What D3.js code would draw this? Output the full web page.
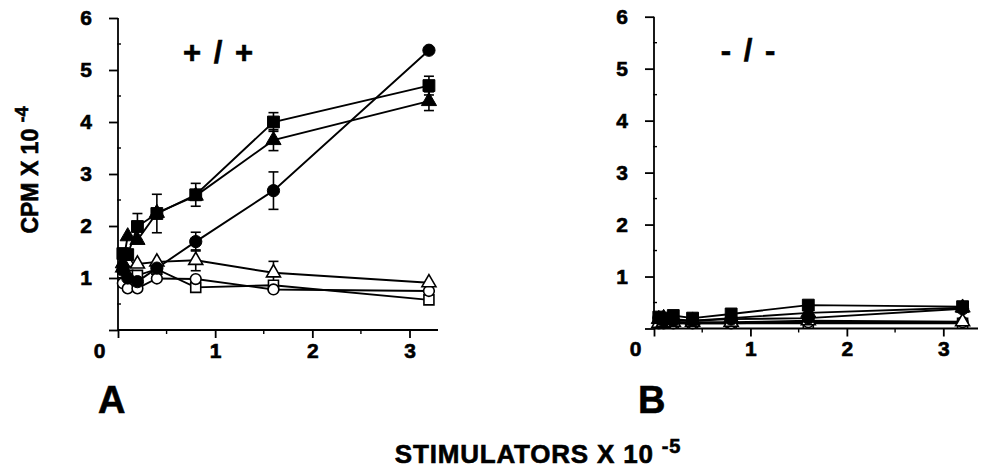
<!DOCTYPE html>
<html><head><meta charset="utf-8">
<script src="https://cdn.jsdelivr.net/npm/d3@7"></script>
<style>
body{margin:0;background:#fff;}
svg{display:block;font-family:"Liberation Sans",Arial,Helvetica,sans-serif;font-weight:bold;}
</style></head>
<body><svg id="c" width="982" height="474"></svg>
<script>
// ---------- DATA ----------
const xValues = [0.05, 0.1, 0.2, 0.4, 0.8, 1.6, 3.2];
const xTicks = [0, 1, 2, 3];
const xMinorTicks = [0.5, 1.5, 2.5];
const yTicks = [0, 1, 2, 3, 4, 5, 6];
const yMinorTicks = [0.5, 1.5, 2.5, 3.5, 4.5, 5.5];

// Panel A (+/+)
const aFilledCircle     = [1.15, 1.00, 0.93, 1.19, 1.70, 2.68, 5.38];
const aFilledCircleErr  = [0, 0, 0, 0, 0.18, 0.36, 0];
const aFilledSquare     = [1.47, 1.45, 1.99, 2.24, 2.60, 4.00, 4.70];
const aFilledSquareErr  = [0, 0, 0.25, 0.37, 0.22, 0.18, 0.18];
const aFilledTriangle   = [1.28, 1.80, 1.73, 2.25, 2.58, 3.65, 4.40];
const aFilledTriangleErr= [0, 0, 0, 0, 0, 0.20, 0.18];
const aOpenTriangle     = [1.20, 1.30, 1.27, 1.31, 1.34, 1.10, 0.91];
const aOpenTriangleErr  = [0, 0, 0, 0, 0.20, 0.22, 0];
const aOpenCircle       = [0.90, 0.80, 0.80, 0.99, 0.98, 0.78, 0.75];
const aOpenSquare       = [1.10, 1.05, 1.05, 1.17, 0.82, 0.86, 0.58];

// Panel B (-/-)
const bFilledSquare     = [0.22, 0.20, 0.25, 0.20, 0.28, 0.45, 0.42];
const bFilledTriangle   = [0.18, 0.20, 0.18, 0.15, 0.20, 0.30, 0.40];
const bFilledCircle     = [0.20, 0.15, 0.15, 0.15, 0.18, 0.20, 0.38];
const bOpenTriangle     = [0.10, 0.12, 0.12, 0.12, 0.12, 0.15, 0.13];
const bOpenCircle       = [0.10, 0.10, 0.10, 0.10, 0.10, 0.12, 0.12];
const bOpenSquare       = [0.12, 0.10, 0.10, 0.10, 0.10, 0.10, 0.10];

const panelLabels = ["A", "B"];
const genotypeLabels = ["+ / +", "- / -"];
const yAxisTitle = "CPM X 10";
const yAxisExp = "-4";
const xAxisTitle = "STIMULATORS X 10";
const xAxisExp = "-5";

// ---------- DRAW ----------
const svg = d3.select("#c");
const heavy = sel => sel.attr("stroke","#000").attr("stroke-width",0.6).attr("fill","#000");

const panels = [
  {x0:118, x3:409.5, xEnd:438, y0:330, y6:18,
   label:panelLabels[0], lx:98, geno:genotypeLabels[0], gx:218, gy:63, ws:4,
   series:[
     {v:aOpenSquare, sym:d3.symbolSquare, open:true},
     {v:aOpenCircle, sym:d3.symbolCircle, open:true},
     {v:aOpenTriangle, e:aOpenTriangleErr, sym:d3.symbolTriangle, open:true},
     {v:aFilledCircle, e:aFilledCircleErr, sym:d3.symbolCircle},
     {v:aFilledTriangle, e:aFilledTriangleErr, sym:d3.symbolTriangle},
     {v:aFilledSquare, e:aFilledSquareErr, sym:d3.symbolSquare}
   ]},
  {x0:654, x3:943.3, xEnd:978, y0:328.5, y6:16.7,
   label:panelLabels[1], lx:638, geno:genotypeLabels[1], gx:748, gy:61, ws:4,
   series:[
     {v:bOpenSquare, sym:d3.symbolSquare, open:true},
     {v:bOpenCircle, sym:d3.symbolCircle, open:true},
     {v:bOpenTriangle, sym:d3.symbolTriangle, open:true},
     {v:bFilledCircle, sym:d3.symbolCircle},
     {v:bFilledTriangle, sym:d3.symbolTriangle},
     {v:bFilledSquare, sym:d3.symbolSquare}
   ]}
];

function symSize(sym, open){
  if (sym === d3.symbolSquare) return open ? 100 : 140;
  if (sym === d3.symbolCircle) return open ? 90 : 118;
  return open ? 85 : 100;
}

panels.forEach(p => {
  const xs = d3.scaleLinear().domain([0,3]).range([p.x0, p.x3]);
  const ys = d3.scaleLinear().domain([0,6]).range([p.y0, p.y6]);
  const xMax = xs.invert(p.xEnd);
  const g = svg.append("g");

  // x axis
  const xa = g.append("g").attr("transform",`translate(0,${p.y0})`)
    .call(d3.axisBottom(xs).tickValues(xTicks).tickSize(8).tickPadding(5).tickSizeOuter(0).tickFormat(d3.format("d")));
  xa.select(".domain").remove();
  xa.append("line").attr("x1",xs(0)).attr("x2",xs(xMax)).attr("stroke","#000").attr("stroke-width",1.8);
  xa.selectAll(".tick line").attr("stroke-width",1.8);
  xa.selectAll(".tick text").attr("font-size",21).attr("font-weight","bold")
    .attr("font-family","Liberation Sans, Arial, sans-serif")
    .attr("dx", d => d === 0 ? -19 : 0).call(heavy);
  xa.selectAll(".minor").data(xMinorTicks).enter().append("line")
    .attr("x1",d=>xs(d)).attr("x2",d=>xs(d)).attr("y1",0).attr("y2",4)
    .attr("stroke","#000").attr("stroke-width",1.4);

  // y axis
  const ya = g.append("g").attr("transform",`translate(${p.x0},0)`)
    .call(d3.axisLeft(ys).tickValues(yTicks).tickSize(9).tickPadding(17).tickSizeOuter(0)
      .tickFormat(d => d === 0 ? "" : d));
  ya.select(".domain").remove();
  ya.append("line").attr("y1",ys(0)).attr("y2",ys(6)).attr("stroke","#000").attr("stroke-width",1.8);
  ya.selectAll(".tick line").attr("stroke-width",1.8);
  ya.selectAll(".tick text").attr("font-size",21).attr("font-weight","bold")
    .attr("font-family","Liberation Sans, Arial, sans-serif").call(heavy);
  ya.selectAll(".minor").data(yMinorTicks).enter().append("line")
    .attr("y1",d=>ys(d)).attr("y2",d=>ys(d)).attr("x1",-1).attr("x2",3)
    .attr("stroke","#000").attr("stroke-width",1.4);

  // series
  const line = d3.line().x((d,i)=>xs(xValues[i])).y(d=>ys(d));
  p.series.forEach(s => {
    g.append("path").attr("d", line(s.v)).attr("fill","none")
      .attr("stroke","#000").attr("stroke-width",1.9);
  });
  p.series.forEach(s => {
    if (s.e) {
      s.v.forEach((v,i) => {
        const e = s.e[i]; if (!e) return;
        const cx = xs(xValues[i]);
        g.append("line").attr("x1",cx).attr("x2",cx).attr("y1",ys(v-e)).attr("y2",ys(v+e))
          .attr("stroke","#000").attr("stroke-width",1.6);
        [v-e, v+e].forEach(t => g.append("line").attr("x1",cx-5).attr("x2",cx+5)
          .attr("y1",ys(t)).attr("y2",ys(t)).attr("stroke","#000").attr("stroke-width",1.6));
      });
    }
  });
  p.series.forEach(s => {
    const sy = d3.symbol().type(s.sym).size(symSize(s.sym, s.open));
    s.v.forEach((v,i) => {
      g.append("path").attr("d", sy())
        .attr("transform",`translate(${xs(xValues[i])},${ys(v)})`)
        .attr("fill", s.open ? "#fff" : "#000")
        .attr("stroke","#000").attr("stroke-width", s.open ? 1.6 : 1);
    });
  });

  // genotype label
  g.append("text").attr("x",p.gx).attr("y",p.gy).attr("text-anchor","middle")
    .attr("font-size",31).attr("word-spacing",p.ws).text(p.geno).call(heavy);
  // panel letter
  g.append("text").attr("x",p.lx).attr("y",413).attr("font-size",38).text(p.label).call(heavy);
});

// y axis title
const yt = svg.append("text").attr("transform","translate(38,170) rotate(-90)")
  .attr("text-anchor","middle").attr("font-size",23).call(heavy);
yt.append("tspan").text(yAxisTitle + " ");
yt.append("tspan").attr("font-size",18).attr("dy",-10).text(yAxisExp);

// x axis title
const xt = svg.append("text").attr("x",538).attr("y",463).attr("text-anchor","middle")
  .attr("font-size",26).attr("letter-spacing",0.8).call(heavy);
xt.append("tspan").text(xAxisTitle + " ");
xt.append("tspan").attr("font-size",20).attr("dy",-10).text(xAxisExp);
</script></body></html>
